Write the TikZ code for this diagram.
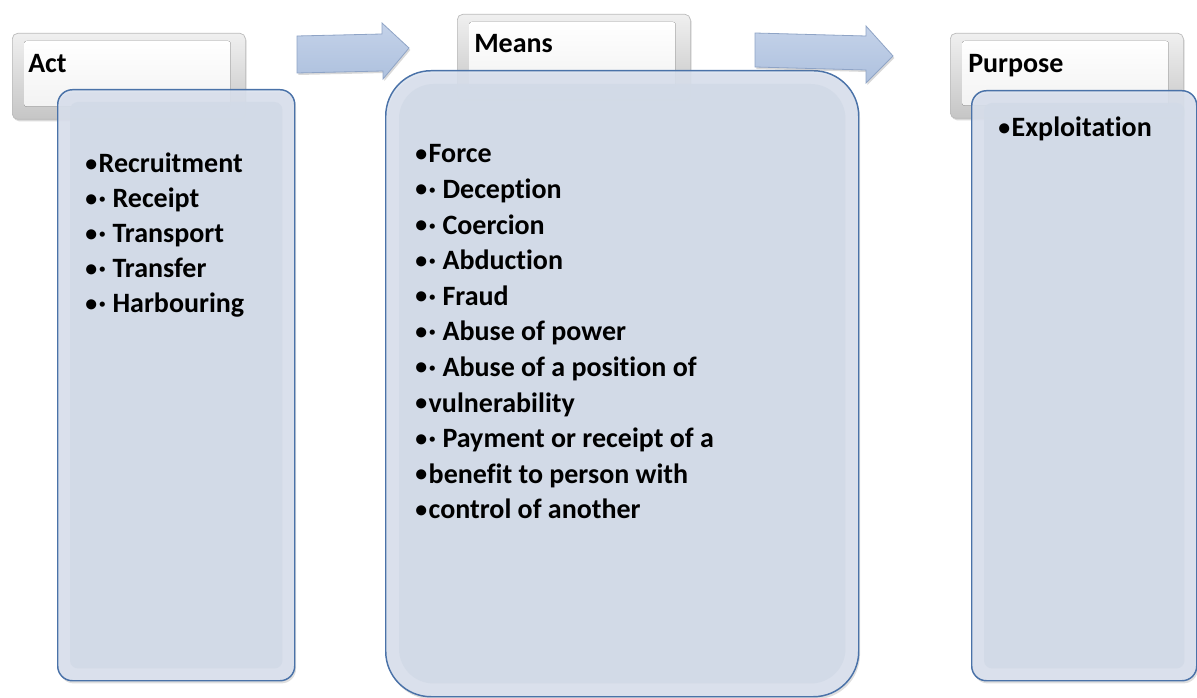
\documentclass[tikz,border=0pt]{standalone}
\usepackage{fontspec}
\setmainfont{Carlito}[Ligatures=NoCommon]
\usetikzlibrary{shadows}
\definecolor{bodyfill}{HTML}{D2DAE7}
\definecolor{bodyedge}{HTML}{DAE1EE}
\definecolor{bodyline}{HTML}{4A72A8}
\definecolor{arrtop}{HTML}{C4D2E9}
\definecolor{arrbot}{HTML}{AEC1DE}
\definecolor{arrline}{HTML}{8FA4C6}
\newcommand{\bul}{\raisebox{0.06em}{\scalebox{0.85}{•}}\kern1.2pt}
\begin{document}
\begin{tikzpicture}[x=0.75pt,y=-0.75pt,
  hdr/.style={draw=gray!55, line width=0.5pt, rounded corners=4pt,
    top color=gray!12, bottom color=gray!45, inner sep=0pt, anchor=north west,
    minimum width=174.75pt, minimum height=64.5pt,
    drop shadow={opacity=0.3,shadow xshift=1pt,shadow yshift=-1.5pt}},
  hface/.style={top color=white, bottom color=gray!10, rounded corners=2pt},
  bodybox/.style={draw=bodyline, line width=1.1pt, fill=bodyedge, fill opacity=0.88,
    inner sep=0pt, anchor=north west,
    drop shadow={opacity=0.25,shadow xshift=1pt,shadow yshift=-2pt}},
  bface/.style={fill=bodyfill, fill opacity=0.95},
  lbl/.style={font=\fontsize{21}{24}\selectfont\bfseries, inner sep=0pt, anchor=base west},
  blockarrow/.style={top color=arrtop, bottom color=arrbot, draw=arrline, line width=0.6pt,
    drop shadow={opacity=0.3,shadow xshift=1pt,shadow yshift=-1.5pt}}
]
\useasboundingbox (0,0) rectangle (1197,698);

% headers
\node[hdr] (actH) at (12,33) {};
\node[hdr] (meansH) at (457,14) {};
\node[hdr, minimum height=63.75pt] (purpH) at (950,33) {};
\foreach \h in {actH,meansH,purpH}
  \fill[hface] ([shift={(12,8)}]\h.north west) rectangle ([shift={(-15,-13)}]\h.south east);

% bodies
\node[bodybox, rounded corners=11pt, minimum width=177.75pt, minimum height=443.25pt] (actB) at (57,89) {};
\fill[bface, rounded corners=6pt] ([shift={(13,13)}]actB.north west) rectangle ([shift={(-13,-13)}]actB.south east);

\node[bodybox, rounded corners=34pt, minimum width=354.75pt, minimum height=469.5pt] (meansB) at (385,70) {};
\fill[bface, rounded corners=26pt] ([shift={(14,14)}]meansB.north west) rectangle ([shift={(-14,-14)}]meansB.south east);

\node[bodybox, rounded corners=11pt, minimum width=168.75pt, minimum height=442.5pt] (purpB) at (971,90) {};
\fill[bface, rounded corners=6pt] ([shift={(13,13)}]purpB.north west) rectangle ([shift={(-13,-13)}]purpB.south east);

% block arrows
\path[blockarrow] (297,36) -- (382,34) -- (382,23) -- (409,48) -- (383,79) -- (383,71) -- (297,73) -- cycle;
\path[blockarrow] (755,33) -- (866,36) -- (866,26) -- (893,56) -- (866,83) -- (866,70) -- (755,67) -- cycle;

% header labels
\node[lbl] (actT) at (28,73) {Act};
\node[lbl] (meansT) at (474,53) {Means};
\node[lbl] (purpT) at (968,73) {Purpose};

% act list
\foreach \t [count=\i] in {\bul Recruitment, \bul· Receipt, \bul· Transport, \bul· Transfer, \bul· Harbouring}
  \node[lbl] (act\i) at (85,{173+35*(\i-1)}) {\t};

% means list
\foreach \t [count=\i] in {\bul Force, \bul· Deception, \bul· Coercion, \bul· Abduction, \bul· Fraud,
  \bul· Abuse of power, \bul· Abuse of a position of, \bul vulnerability,
  \bul· Payment or receipt of a, \bul benefit to person with, \bul control of another}
  \node[lbl] (means\i) at (415,{163+35.6*(\i-1)}) {\t};

% purpose list
\node[lbl] (purp1) at (998,137) {\bul Exploitation};
\end{tikzpicture}
\end{document}
